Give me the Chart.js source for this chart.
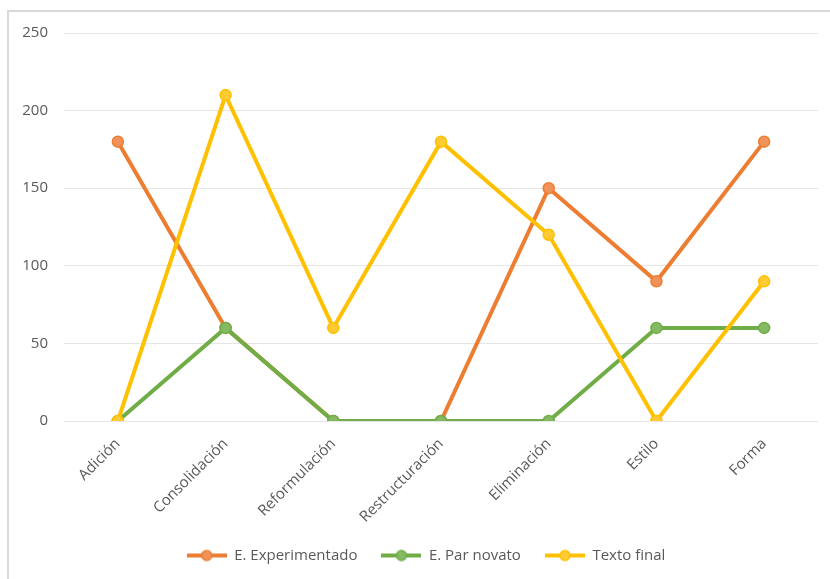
<!DOCTYPE html>
<html>
<head>
<meta charset="utf-8">
<script src="https://cdn.jsdelivr.net/npm/chart.js@4.4.0/dist/chart.umd.min.js"></script>
<style>
  html, body { margin: 0; padding: 0; background: #fff; overflow: hidden; }
  #marco { position: absolute; left: 7px; top: 10px; width: 900px; height: 700px;
           border-top: 2px solid #d9d9d9; border-left: 2px solid #d9d9d9; }
  #grafico { position: absolute; left: 0; top: 0; }
</style>
</head>
<body>
<div id="marco"></div>
<canvas id="grafico" width="830" height="579"></canvas>
<script>
// Categorías del eje X
var categorias = ["Adición", "Consolidación", "Reformulación", "Restructuración", "Eliminación", "Estilo", "Forma"];

// Valores de cada serie
var experimentado = [180, 60, 0, 0, 150, 90, 180];
var parNovato = [0, 60, 0, 0, 0, 60, 60];
var textoFinal = [0, 210, 60, 180, 120, 0, 90];

// Etiquetas de las series
var nombresSeries = ["E. Experimentado", "E. Par novato", "Texto final"];

// Marcas del eje Y
var marcasY = [0, 50, 100, 150, 200, 250];

var colores = ["#ED7D31", "#70AD47", "#FFC000"];
var rellenos = ["#F0925A", "#85BA63", "#FFCB33"];

// Crea el icono de la leyenda (línea con círculo)
function iconoLeyenda(color, relleno) {
    var c = document.createElement("canvas");
    c.width = 40;
    c.height = 14;
    var g = c.getContext("2d");
    g.strokeStyle = color;
    g.lineWidth = 4;
    g.beginPath();
    g.moveTo(0, 7);
    g.lineTo(40, 7);
    g.stroke();
    g.beginPath();
    g.arc(20, 7, 5, 0, Math.PI * 2);
    g.fillStyle = relleno;
    g.fill();
    g.lineWidth = 1.5;
    g.stroke();
    return c;
}

function serie(i, datos, orden) {
    return {
        label: nombresSeries[i],
        data: datos,
        borderColor: colores[i],
        backgroundColor: rellenos[i],
        borderWidth: 4,
        pointRadius: 5.5,
        pointBorderWidth: 1.5,
        pointBackgroundColor: rellenos[i],
        pointBorderColor: colores[i],
        tension: 0,
        order: orden
    };
}

// Desplaza la leyenda un poco a la derecha para centrarla como en el original
var moverLeyenda = {
    id: "moverLeyenda",
    afterLayout: function (chart) {
        chart.legend.left += 17;
        chart.legend.right += 17;
    }
};

var fuente = "'Open Sans', 'Liberation Sans', sans-serif";

new Chart(document.getElementById("grafico").getContext("2d"), {
    type: "line",
    data: {
        labels: categorias,
        datasets: [
            serie(0, experimentado, 3),
            serie(1, parNovato, 2),
            serie(2, textoFinal, 1)
        ]
    },
    plugins: [moverLeyenda],
    options: {
        responsive: false,
        animation: false,
        layout: { padding: { left: 0, right: 12, top: 33, bottom: 6 } },
        plugins: {
            tooltip: { enabled: false },
            legend: {
                position: "bottom",
                labels: {
                    usePointStyle: true,
                    pointStyleWidth: 40,
                    boxHeight: 14,
                    padding: 24,
                    color: "#595959",
                    font: { family: fuente, size: 15 },
                    generateLabels: function (chart) {
                        return chart.data.datasets.map(function (ds, i) {
                            return {
                                text: ds.label,
                                datasetIndex: i,
                                pointStyle: iconoLeyenda(colores[i], rellenos[i]),
                                fillStyle: rellenos[i],
                                strokeStyle: colores[i],
                                lineWidth: 0,
                                fontColor: "#595959",
                                hidden: false
                            };
                        });
                    }
                }
            }
        },
        scales: {
            x: {
                offset: true,
                grid: { display: false },
                border: { display: false },
                ticks: {
                    color: "#595959",
                    font: { family: fuente, size: 15 },
                    minRotation: 45,
                    maxRotation: 45,
                    padding: 6
                },
                afterFit: function (scale) { scale.height = 103; }
            },
            y: {
                min: 0,
                max: 250,
                afterBuildTicks: function (scale) {
                    scale.ticks = marcasY.map(function (v) { return { value: v }; });
                },
                grid: { color: "#e6e6e6", lineWidth: 1, drawTicks: false },
                border: { display: false },
                ticks: {
                    color: "#595959",
                    font: { family: fuente, size: 15 },
                    padding: 16
                },
                afterFit: function (scale) { scale.width = 64; }
            }
        }
    }
});
</script>
</body>
</html>
